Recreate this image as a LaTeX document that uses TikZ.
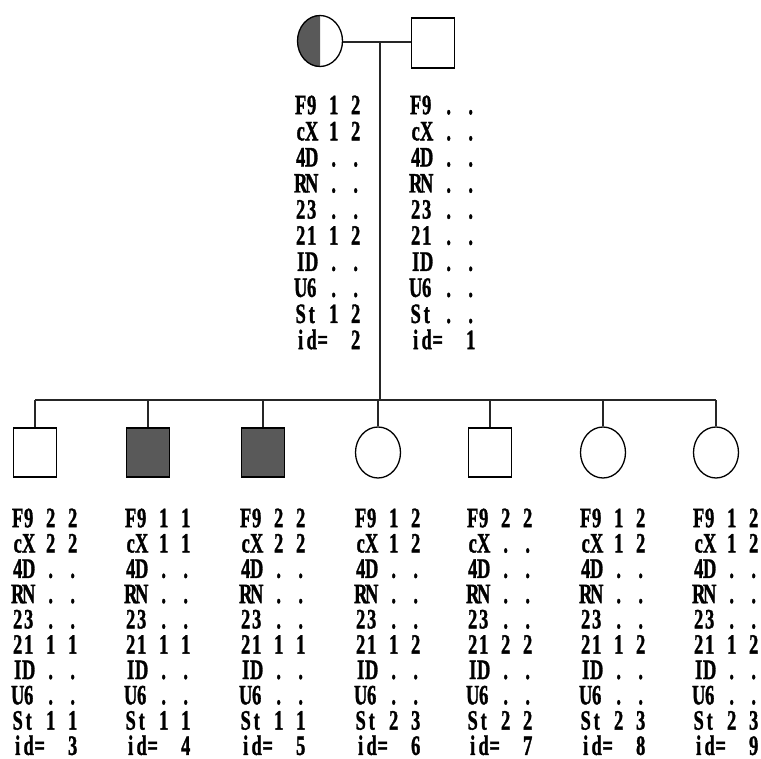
\documentclass[tikz,border=0pt]{standalone}
\usepackage{fontspec}
\setmainfont{Liberation Serif}
\newfontfamily\gfont{Liberation Serif}[FakeBold=1.5]
\usepackage{graphicx}
\usetikzlibrary{shapes.geometric}
\newcommand\gch[1]{\makebox[11pt][c]{\scalebox{0.66}[1]{#1}}}
\newcommand\gln[4]{\gch{#1}\gch{#2}\gch{}\gch{#3}\gch{}\gch{#4}}
\newcommand\gid[1]{\gch{i}\gch{d}\gch{=}\gch{}\gch{}\gch{#1}}
\newcommand\gfirst{\rule{0pt}{20pt}}
\tikzset{
  ln/.style={line width=1.5pt, black!85},
  sq/.style={rectangle, draw, line width=1.5pt, minimum width=43pt, minimum height=49pt, inner sep=0pt},
  ci/.style={ellipse, draw, line width=1.3pt, minimum width=45pt, minimum height=51pt, inner sep=0pt},
  aff/.style={fill=black!65},
  ptxt/.style={anchor=north west, inner sep=0pt, text depth=0pt, align=left, font=\gfont\fontsize{28}{26.1}\selectfont\bfseries},
  ctxt/.style={anchor=north west, inner sep=0pt, text depth=0pt, align=left, font=\gfont\fontsize{28}{25.3}\selectfont\bfseries},
}
\begin{document}
\begin{tikzpicture}[x=1pt,y=-1pt]
\useasboundingbox (0,0) rectangle (761,759);
% parents
\begin{scope}
\clip (290,5) rectangle (320,80);
\fill[black!65] (320,41) ellipse [x radius=22.5, y radius=26];
\end{scope}
\node[ci] (p2) at (320,41) {};
\node[sq, minimum height=50pt] (p1) at (433,43) {};
\coordinate (m) at (380,42);
\coordinate (s) at (380,400);
\coordinate (sl) at (35,400);
\coordinate (sr) at (716,400);
\draw[ln] (p2.east |- m) -- (p1.west |- m);
\draw[ln] (m) -- (s);
\draw[ln] (sl) -- (sr);
% children
\node[sq] (c3) at (35,452.5) {};
\node[sq,aff] (c4) at (148,452.5) {};
\node[sq,aff] (c5) at (263,452.5) {};
\node[ci] (c6) at (378,452.5) {};
\node[sq] (c7) at (490,452.5) {};
\node[ci] (c8) at (603,452.5) {};
\node[ci] (c9) at (716,452.5) {};
\foreach \c in {c3,c4,c5,c6,c7,c8,c9}{\draw[ln] (\c.north) -- (\c.north |- s);}
% texts
\node[ptxt] (t2) at (295,94) {\gfirst\gln F912\\ \gln cX12\\ \gln 4D..\\ \gln RN..\\ \gln 23..\\ \gln 2112\\ \gln ID..\\ \gln U6..\\ \gln St12\\ \gid{2}};
\node[ptxt] (t1) at (410,94) {\gfirst\gln F9..\\ \gln cX..\\ \gln 4D..\\ \gln RN..\\ \gln 23..\\ \gln 21..\\ \gln ID..\\ \gln U6..\\ \gln St..\\ \gid{1}};
\node[ctxt] (t3) at (12,507) {\gfirst\gln F922\\ \gln cX22\\ \gln 4D..\\ \gln RN..\\ \gln 23..\\ \gln 2111\\ \gln ID..\\ \gln U6..\\ \gln St11\\ \gid{3}};
\node[ctxt] (t4) at (125,507) {\gfirst\gln F911\\ \gln cX11\\ \gln 4D..\\ \gln RN..\\ \gln 23..\\ \gln 2111\\ \gln ID..\\ \gln U6..\\ \gln St11\\ \gid{4}};
\node[ctxt] (t5) at (240,507) {\gfirst\gln F922\\ \gln cX22\\ \gln 4D..\\ \gln RN..\\ \gln 23..\\ \gln 2111\\ \gln ID..\\ \gln U6..\\ \gln St11\\ \gid{5}};
\node[ctxt] (t6) at (355,507) {\gfirst\gln F912\\ \gln cX12\\ \gln 4D..\\ \gln RN..\\ \gln 23..\\ \gln 2112\\ \gln ID..\\ \gln U6..\\ \gln St23\\ \gid{6}};
\node[ctxt] (t7) at (467,507) {\gfirst\gln F922\\ \gln cX..\\ \gln 4D..\\ \gln RN..\\ \gln 23..\\ \gln 2122\\ \gln ID..\\ \gln U6..\\ \gln St22\\ \gid{7}};
\node[ctxt] (t8) at (580,507) {\gfirst\gln F912\\ \gln cX12\\ \gln 4D..\\ \gln RN..\\ \gln 23..\\ \gln 2112\\ \gln ID..\\ \gln U6..\\ \gln St23\\ \gid{8}};
\node[ctxt] (t9) at (693,507) {\gfirst\gln F912\\ \gln cX12\\ \gln 4D..\\ \gln RN..\\ \gln 23..\\ \gln 2112\\ \gln ID..\\ \gln U6..\\ \gln St23\\ \gid{9}};
\end{tikzpicture}
\end{document}
